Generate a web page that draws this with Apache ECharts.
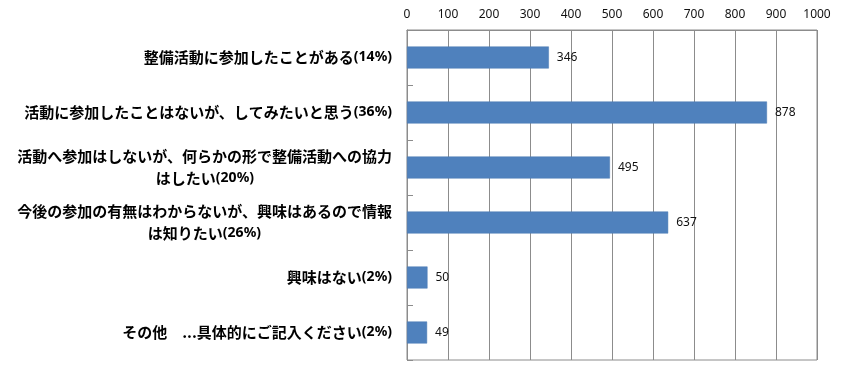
<!DOCTYPE html>
<html>
<head>
<meta charset="utf-8">
<script src="https://cdn.jsdelivr.net/npm/echarts@6/dist/echarts.min.js"></script>
<style>html,body{margin:0;padding:0;background:#fff;}#c{width:845px;height:375px;}</style>
</head>
<body>
<div id="c"></div>
<script>
var categories = [
  "整備活動に参加したことがある",
  "活動に参加したことはないが、してみたいと思う",
  "活動へ参加はしないが、何らかの形で整備活動への協力\nはしたい",
  "今後の参加の有無はわからないが、興味はあるので情報\nは知りたい",
  "興味はない",
  "その他　...具体的にご記入ください"
];
var percents = ["(14%)", "(36%)", "(20%)", "(26%)", "(2%)", "(2%)"];
var values = [346, 878, 495, 637, 50, 49];
var xTicks = { min: 0, max: 1000, interval: 100 };

var JP_FONT = 'bold 15px "Noto Sans CJK JP"';
var PCT_FONT = 'bold 14px "Noto Sans"';
var ctx = document.createElement('canvas').getContext('2d');
function measure(text, font) { ctx.font = font; return ctx.measureText(text).width; }

var chart = echarts.init(document.getElementById('c'), null, { renderer: 'canvas' });
chart.setOption({
  animation: false,
  backgroundColor: '#fff',
  grid: { left: 407, right: 28, top: 30, bottom: 15, show: true, borderColor: '#8c8c8c', borderWidth: 1, backgroundColor: 'transparent' },
  xAxis: {
    type: 'value', position: 'top', min: xTicks.min, max: xTicks.max, interval: xTicks.interval,
    axisLine: { show: true, lineStyle: { color: '#8c8c8c' } },
    axisTick: { show: false },
    axisLabel: { color: '#111', fontSize: 12, fontFamily: 'Noto Sans', margin: 9, formatter: function (v) { return String(v); } },
    splitLine: { show: true, lineStyle: { color: '#8c8c8c', width: 1 } }
  },
  yAxis: {
    type: 'category', inverse: true, data: categories,
    axisLine: { show: true, lineStyle: { color: '#8c8c8c' } },
    axisTick: { show: true, inside: true, length: 6, lineStyle: { color: '#8c8c8c' } },
    axisLabel: {
      margin: 15,
      formatter: function (v, i) {
        var lines = v.split('\n');
        var widths = lines.map(function (l, k) {
          var w = measure(l, JP_FONT);
          if (k === lines.length - 1) w += measure(percents[i], PCT_FONT);
          return w;
        });
        var maxW = Math.max.apply(null, widths);
        return lines.map(function (l, k) {
          var pad = Math.round((maxW - widths[k]) / 2);
          var last = k === lines.length - 1;
          var s = '{c|' + l + '}';
          if (last) s += '{' + (pad > 0 ? 'b' + pad : 'b') + '|' + percents[i] + '}';
          return s;
        }).join('\n');
      },
      rich: (function () {
        var r = {
          c: { fontSize: 15, fontFamily: 'Noto Sans CJK JP', fontWeight: 'bold', color: '#000', lineHeight: 22 },
          b: { fontSize: 14, fontFamily: 'Noto Sans', fontWeight: 'bold', color: '#000', lineHeight: 22 }
        };
        for (var p = 1; p <= 300; p++) {
          r['b' + p] = { fontSize: 14, fontFamily: 'Noto Sans', fontWeight: 'bold', color: '#000', lineHeight: 22, padding: [0, p, 0, 0] };
        }
        return r;
      })()
    }
  },
  series: [{
    type: 'bar', data: values, barCategoryGap: '60%',
    itemStyle: { color: '#4f81bd', borderColor: '#4a7ab3', borderWidth: 0.5 },
    label: { show: true, position: 'right', distance: 8, color: '#111', fontSize: 12, fontFamily: 'Noto Sans' }
  }]
});
</script>
</body>
</html>
